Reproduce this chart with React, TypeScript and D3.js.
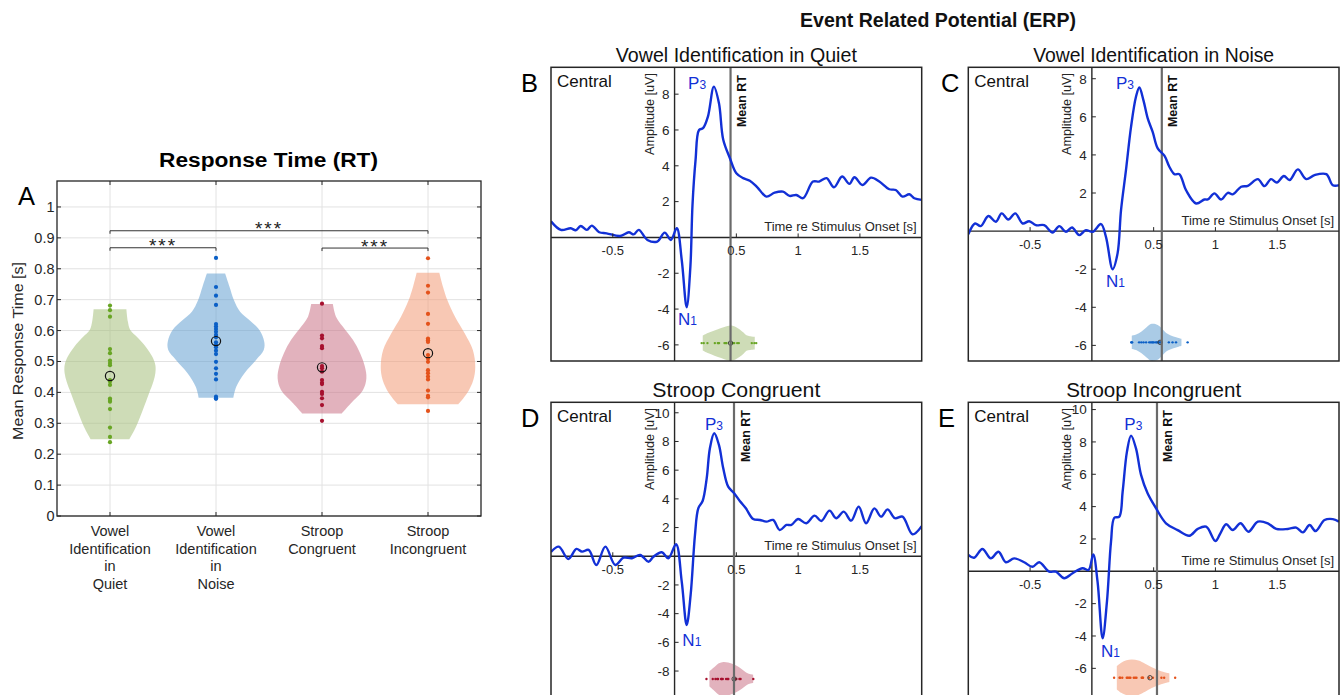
import React from "react";
import * as d3 from "d3";

const FONT = "'Liberation Sans', Arial, Helvetica, sans-serif";

// ---------------- Panel A data ----------------
const rtCategoryLines = [
  ["Vowel", "Identification", "in", "Quiet"],
  ["Vowel", "Identification", "in", "Noise"],
  ["Stroop", "Congruent"],
  ["Stroop", "Incongruent"],
];
const rtQuiet = [0.681, 0.666, 0.645, 0.54, 0.527, 0.503, 0.495, 0.488, 0.44, 0.435, 0.424, 0.38, 0.375, 0.37, 0.346, 0.286, 0.256, 0.239];
const rtNoise = [0.835, 0.741, 0.713, 0.683, 0.621, 0.613, 0.605, 0.596, 0.586, 0.578, 0.562, 0.553, 0.546, 0.535, 0.524, 0.499, 0.478, 0.46, 0.442, 0.386, 0.381, 0.379];
const rtCongruent = [0.687, 0.584, 0.575, 0.55, 0.543, 0.485, 0.478, 0.467, 0.44, 0.431, 0.427, 0.402, 0.395, 0.381, 0.359, 0.308];
const rtIncongruent = [0.834, 0.745, 0.723, 0.654, 0.622, 0.574, 0.569, 0.563, 0.521, 0.51, 0.499, 0.472, 0.462, 0.451, 0.442, 0.406, 0.389, 0.384, 0.34];
const rtMeans = [0.453, 0.566, 0.481, 0.527];

// violin density profiles: [response time, relative density]
const densQuiet = [[0.248, 0.4], [0.289, 0.54], [0.343, 0.68], [0.397, 0.81], [0.435, 0.9], [0.462, 0.94], [0.489, 0.94], [0.516, 0.875], [0.548, 0.74], [0.58, 0.556], [0.602, 0.42], [0.629, 0.37], [0.669, 0.34]];
const densNoise = [[0.383, 0.36], [0.418, 0.42], [0.462, 0.59], [0.505, 0.83], [0.537, 0.99], [0.564, 1.0], [0.602, 0.9], [0.634, 0.69], [0.661, 0.5], [0.699, 0.37], [0.742, 0.28], [0.785, 0.19]];
const densCongruent = [[0.332, 0.41], [0.365, 0.6], [0.408, 0.85], [0.446, 0.92], [0.483, 0.89], [0.527, 0.79], [0.57, 0.64], [0.613, 0.43], [0.645, 0.29], [0.686, 0.225]];
const densIncongruent = [[0.362, 0.63], [0.397, 0.81], [0.44, 0.94], [0.483, 0.98], [0.537, 0.93], [0.591, 0.76], [0.645, 0.56], [0.699, 0.4], [0.742, 0.31], [0.787, 0.235]];

const rtYTicks = [0, 0.1, 0.2, 0.3, 0.4, 0.5, 0.6, 0.7, 0.8, 0.9, 1];
const rtYTickLabels = ["0", "0.1", "0.2", "0.3", "0.4", "0.5", "0.6", "0.7", "0.8", "0.9", "1"];
const sigPairs = [[1, 2], [1, 4], [3, 4]];
const sigLevels = [0.868, 0.923, 0.867];
const sigLabels = ["***", "***", "***"];

const pointColors = ["#68a524", "#0a5fc6", "#a6102e", "#e4521b"];
const violinColors = ["#a6bf7c", "#64a0d1", "#ca7387", "#f29b77"];

// ---------------- ERP data ----------------
const erpTitles = ["Vowel Identification in Quiet", "Vowel Identification in Noise", "Stroop Congruent", "Stroop Incongruent"];
const erpLetters = ["B", "C", "D", "E"];
const erpQuiet = [[-1.0, 0.9], [-0.92, 0.42], [-0.84, 0.51], [-0.8, 0.4], [-0.76, 0.64], [-0.71, 0.42], [-0.67, 0.66], [-0.61, 0.29], [-0.55, 0.23], [-0.44, 0.08], [-0.37, 0.29], [-0.33, 0.17], [-0.29, 0.42], [-0.22, -0.14], [-0.14, -0.23], [-0.08, 0.27], [-0.03, -0.14], [0.018, 0.51], [0.058, -1.26], [0.098, -3.9], [0.128, -1.63], [0.145, 1.8], [0.17, 4.33], [0.198, 6.0], [0.23, 6.1], [0.27, 6.75], [0.318, 8.42], [0.359, 7.5], [0.394, 5.45], [0.448, 4.42], [0.5, 3.58], [0.555, 3.31], [0.609, 3.17], [0.67, 2.8], [0.743, 2.28], [0.81, 2.5], [0.877, 2.56], [0.931, 2.32], [0.985, 2.37], [1.04, 2.19], [1.12, 3.12], [1.17, 3.12], [1.23, 3.31], [1.29, 2.8], [1.356, 3.4], [1.415, 2.99], [1.456, 3.36], [1.52, 2.93], [1.59, 3.34], [1.657, 3.12], [1.738, 2.69], [1.79, 2.65], [1.845, 2.28], [1.9, 2.41], [1.94, 2.19], [2.0, 2.1]];
const erpNoise = [[-1.0, -0.17], [-0.945, 0.4], [-0.9, 0.26], [-0.837, 0.79], [-0.777, 0.49], [-0.73, 0.93], [-0.677, 0.61], [-0.62, 0.93], [-0.56, 0.4], [-0.507, 0.52], [-0.453, 0.31], [-0.386, 0.31], [-0.318, -0.07], [-0.264, 0.26], [-0.21, -0.04], [-0.161, 0.19], [-0.102, -0.21], [-0.048, 0.05], [0.006, -0.04], [0.074, 0.37], [0.114, -0.3], [0.168, -2.0], [0.208, -1.17], [0.236, 1.1], [0.276, 3.2], [0.317, 5.47], [0.357, 7.05], [0.384, 7.54], [0.417, 6.88], [0.452, 5.92], [0.492, 5.21], [0.533, 4.34], [0.587, 3.96], [0.627, 3.38], [0.668, 2.99], [0.708, 2.99], [0.762, 2.15], [0.844, 1.45], [0.911, 1.66], [0.938, 1.66], [0.992, 1.98], [1.046, 1.66], [1.1, 2.01], [1.14, 1.93], [1.208, 2.33], [1.262, 2.38], [1.343, 2.73], [1.397, 2.36], [1.45, 2.73], [1.497, 2.55], [1.554, 2.89], [1.6, 2.68], [1.667, 3.24], [1.735, 2.73], [1.802, 2.94], [1.897, 2.99], [1.95, 2.41], [2.0, 2.41]];
const erpCongruent = [[-1.0, 0.3], [-0.937, 0.67], [-0.86, -0.19], [-0.794, 0.51], [-0.749, 0.32], [-0.695, 0.44], [-0.633, -0.61], [-0.56, 0.67], [-0.48, -0.61], [-0.413, -0.1], [-0.345, -0.14], [-0.278, 0.09], [-0.211, -0.38], [-0.171, -0.03], [-0.103, 0.28], [-0.05, -0.14], [0.012, 0.84], [0.058, -1.77], [0.098, -4.79], [0.13, -2.7], [0.165, 1.48], [0.192, 3.34], [0.227, 3.85], [0.26, 5.43], [0.286, 7.53], [0.321, 8.57], [0.359, 7.76], [0.394, 6.13], [0.434, 4.85], [0.482, 4.39], [0.528, 3.85], [0.577, 3.34], [0.636, 2.6], [0.69, 2.53], [0.743, 2.41], [0.797, 2.53], [0.851, 1.83], [0.905, 2.18], [0.945, 2.18], [0.999, 2.6], [1.066, 2.3], [1.133, 2.83], [1.187, 2.46], [1.254, 3.18], [1.308, 2.65], [1.369, 3.11], [1.429, 2.48], [1.49, 3.46], [1.55, 2.3], [1.617, 3.34], [1.671, 2.76], [1.724, 3.27], [1.784, 2.65], [1.845, 2.76], [1.926, 1.53], [2.0, 2.1]];
const erpIncongruent = [[-1.0, 1.01], [-0.953, 0.84], [-0.886, 1.38], [-0.818, 0.8], [-0.756, 1.21], [-0.696, 0.56], [-0.629, 0.8], [-0.548, 0.56], [-0.481, 0.28], [-0.426, 0.56], [-0.345, -0.02], [-0.291, -0.02], [-0.224, -0.43], [-0.156, -0.12], [-0.075, 0.19], [-0.027, 0.08], [0.011, 1.05], [0.046, -0.64], [0.087, -4.14], [0.122, -1.88], [0.155, 1.83], [0.182, 3.31], [0.222, 3.38], [0.249, 4.92], [0.284, 7.4], [0.317, 8.39], [0.357, 7.6], [0.398, 5.96], [0.451, 4.82], [0.519, 3.9], [0.6, 2.97], [0.694, 2.55], [0.789, 2.2], [0.857, 2.62], [0.925, 2.76], [1.0, 1.87], [1.04, 2.35], [1.087, 2.91], [1.14, 2.55], [1.203, 2.97], [1.267, 2.45], [1.343, 3.07], [1.424, 2.97], [1.492, 2.62], [1.586, 2.62], [1.654, 2.7], [1.708, 2.41], [1.762, 2.86], [1.81, 2.49], [1.883, 3.17], [1.95, 3.23], [2.0, 3.07]];

const erpXDomain = [-1, 2];
const erpXTicks = [-0.5, 0.5, 1, 1.5];
const erpXTickLabels = ["-0.5", "0.5", "1", "1.5"];
const erpYDomains = [[-6.9, 9.5], [-6.82, 8.6], [-9.74, 10.73], [-7.71, 10.45]];
const erpYTicks = [[-6, -4, -2, 2, 4, 6, 8], [-6, -4, -2, 2, 4, 6, 8], [-8, -6, -4, -2, 2, 4, 6, 8, 10], [-6, -4, -2, 2, 4, 6, 8, 10]];
const erpP3Label = [[0.109, 8.3], [0.195, 7.44], [0.246, 8.8], [0.263, 8.74]];
const erpN1Label = [[0.028, -4.89], [0.114, -2.96], [0.063, -6.23], [0.074, -5.28]];
const erpViolinLevel = [-5.9, -5.84, -8.55, -6.58];
const erpRtShift = [-0.02, -0.06, -0.05, -0.16];
const erpMarker = [0.453, 0.552, 0.482, 0.47];

const rtSets = [rtQuiet, rtNoise, rtCongruent, rtIncongruent];
const densSets = [densQuiet, densNoise, densCongruent, densIncongruent];
const erpCurves = [erpQuiet, erpNoise, erpCongruent, erpIncongruent];

// layout
const erpBoxes = [
  { x0: 551, x1: 921.7, y0: 67.3, y1: 361 },
  { x0: 968.3, x1: 1339, y0: 67.3, y1: 361 },
  { x0: 551, x1: 921.7, y0: 402.3, y1: 696 },
  { x0: 968.3, x1: 1339, y0: 402.3, y1: 696 },
];
const erpLetterX = [521, 941, 521, 938];

function PanelA() {
  const L = 57, R = 481, T = 181, B = 516;
  const x = d3.scaleLinear().domain([0.5, 4.5]).range([L, R]);
  const y = d3.scaleLinear().domain([0, 1.084]).range([B, T]);
  const wUnit = x(1.455) - x(1);
  const ink = "#262626";
  return (
    <g>
      <text x={268.5} y={166.7} textAnchor="middle" fontWeight="bold" fontSize={20} textLength={219} lengthAdjust="spacingAndGlyphs" fill="#000">Response Time (RT)</text>
      <text x={18} y={205} fontSize={25.5} fill="#000">A</text>
      {rtYTicks.map((t, i) => (
        <line key={"gy" + i} x1={L} x2={R} y1={y(t)} y2={y(t)} stroke="#e2e2e2" strokeWidth={1} />
      ))}
      {[1, 2, 3, 4].map((c) => (
        <line key={"gx" + c} x1={x(c)} x2={x(c)} y1={T} y2={B} stroke="#e2e2e2" strokeWidth={1} />
      ))}
      {densSets.map((dens, i) => {
        const cx = x(i + 1);
        const area = d3
          .area<number[]>()
          .y((d) => y(d[0]))
          .x0((d) => cx - d[1] * wUnit)
          .x1((d) => cx + d[1] * wUnit)
          .curve(d3.curveCatmullRom.alpha(0.5));
        return <path key={"v" + i} d={area(dens) || ""} fill={violinColors[i]} fillOpacity={0.55} stroke="none" />;
      })}
      {rtSets.map((set, i) =>
        set.map((v, j) => <circle key={"p" + i + "_" + j} cx={x(i + 1)} cy={y(v)} r={2.1} fill={pointColors[i]} />)
      )}
      {rtMeans.map((m, i) => (
        <circle key={"m" + i} cx={x(i + 1)} cy={y(m)} r={4.6} fill="none" stroke="#111" strokeWidth={1.2} />
      ))}
      {sigPairs.map((p, i) => {
        const yy = y(sigLevels[i]);
        const xa = x(p[0]), xb = x(p[1]);
        return (
          <g key={"s" + i}>
            <path d={`M${xa},${yy + 3}V${yy}H${xb}V${yy + 3}`} fill="none" stroke="#333" strokeWidth={1} />
            <text x={(xa + xb) / 2} y={yy + 4.5} textAnchor="middle" fontSize={19} letterSpacing={2} fill="#222">{sigLabels[i]}</text>
          </g>
        );
      })}
      {rtYTicks.map((t, i) => (
        <g key={"t" + i}>
          <line x1={L} x2={L + 4} y1={y(t)} y2={y(t)} stroke={ink} />
          <line x1={R} x2={R - 4} y1={y(t)} y2={y(t)} stroke={ink} />
          <text x={54.5} y={y(t) + 5} textAnchor="end" fontSize={14.5} fill={ink}>{rtYTickLabels[i]}</text>
        </g>
      ))}
      {[1, 2, 3, 4].map((c) => (
        <g key={"xt" + c}>
          <line x1={x(c)} x2={x(c)} y1={T} y2={T + 4} stroke={ink} />
          <line x1={x(c)} x2={x(c)} y1={B} y2={B - 4} stroke={ink} />
        </g>
      ))}
      {rtCategoryLines.map((lines, i) => (
        <text key={"c" + i} textAnchor="middle" fontSize={14.5} fill={ink}>
          {lines.map((s, k) => (
            <tspan key={k} x={x(i + 1)} y={535.7 + k * 17.8}>{s}</tspan>
          ))}
        </text>
      ))}
      <text transform="translate(23.3,350.9) rotate(-90)" textAnchor="middle" fontSize={15} textLength={178} lengthAdjust="spacingAndGlyphs" fill={ink}>Mean Response Time [s]</text>
      <rect x={L} y={T} width={R - L} height={B - T} fill="none" stroke={ink} strokeWidth={1.3} />
    </g>
  );
}

function ErpPanel({ i }: { i: number }) {
  const b = erpBoxes[i];
  const x = d3.scaleLinear().domain(erpXDomain).range([b.x0, b.x1]);
  const y = d3.scaleLinear().domain(erpYDomains[i]).range([b.y1, b.y0]);
  const x0 = x(0), y0 = y(0);
  const ink = "#262626";
  const blue = "#1230d6";
  const line = d3
    .line<number[]>()
    .x((d) => x(d[0]))
    .y((d) => y(d[1]))
    .curve(d3.curveCatmullRom.alpha(0.5));
  const tv = d3.scaleLinear().domain([0, 1]).range([erpRtShift[i], 1 + erpRtShift[i]]);
  const hUnit = 18.5;
  const vy = y(erpViolinLevel[i]);
  const area = d3
    .area<number[]>()
    .x((d) => x(tv(d[0])))
    .y0((d) => vy + d[1] * hUnit)
    .y1((d) => vy - d[1] * hUnit)
    .curve(d3.curveCatmullRom.alpha(0.5));
  const meanX = x(rtMeans[i]);
  const clipId = "erpclip" + i;
  const cx = (b.x0 + b.x1) / 2;
  const titleLen = [241, 241, 168, 175][i];
  return (
    <g>
      <defs>
        <clipPath id={clipId}>
          <rect x={b.x0} y={b.y0} width={b.x1 - b.x0} height={b.y1 - b.y0} />
        </clipPath>
      </defs>
      <text x={cx} y={b.y0 - 5.3} textAnchor="middle" fontSize={19.5} textLength={titleLen} lengthAdjust="spacingAndGlyphs" fill="#111">{erpTitles[i]}</text>
      <text x={erpLetterX[i]} y={b.y0 + 24.4} fontSize={25.5} fill="#000">{erpLetters[i]}</text>
      <g clipPath={`url(#${clipId})`}>
        <path d={area(densSets[i]) || ""} fill={violinColors[i]} fillOpacity={0.55} />
        {rtSets[i].map((v, j) => (
          <circle key={j} cx={x(tv(v))} cy={vy} r={1.2} fill={pointColors[i]} />
        ))}
        <circle cx={x(erpMarker[i])} cy={vy} r={2.2} fill="none" stroke="#333" strokeWidth={0.9} />
        <line x1={b.x0} x2={b.x1} y1={y0} y2={y0} stroke={ink} strokeWidth={1.4} />
        <line x1={x0} x2={x0} y1={b.y0} y2={b.y1} stroke={ink} strokeWidth={1.4} />
        <line x1={meanX} x2={meanX} y1={b.y0} y2={b.y1} stroke="#6a6a6a" strokeWidth={2.2} />
        <path d={line(erpCurves[i]) || ""} fill="none" stroke={blue} strokeWidth={2.4} strokeLinejoin="round" />
      </g>
      {erpYTicks[i].map((t, k) => (
        <g key={"y" + k}>
          <line x1={x0} x2={x0 + 4} y1={y(t)} y2={y(t)} stroke={ink} />
          <text x={x0 - 5} y={y(t) + 4.8} textAnchor="end" fontSize={13.5} fill={ink}>{String(t)}</text>
        </g>
      ))}
      {erpXTicks.map((t, k) => (
        <g key={"x" + k}>
          <line x1={x(t)} x2={x(t)} y1={y0} y2={y0 - 4} stroke={ink} />
          <text x={x(t)} y={y0 + 17.5} textAnchor="middle" fontSize={13} fill={ink}>{erpXTickLabels[k]}</text>
        </g>
      ))}
      <text x={b.x1 - 5} y={y0 - 6} textAnchor="end" fontSize={13} textLength={152.5} lengthAdjust="spacingAndGlyphs" fill={ink}>Time re Stimulus Onset [s]</text>
      <text transform={`translate(${x0 - 21},${b.y0 + 5.7}) rotate(-90)`} textAnchor="end" fontSize={13} textLength={82} lengthAdjust="spacingAndGlyphs" fill={ink}>Amplitude [uV]</text>
      <text transform={`translate(${meanX + 15.5},${b.y0 + 7.7}) rotate(-90)`} textAnchor="end" fontSize={12.5} fontWeight="bold" fill="#111">Mean RT</text>
      <text x={b.x0 + 6} y={b.y0 + 19.4} fontSize={17} fill="#111">Central</text>
      <text x={x(erpP3Label[i][0])} y={y(erpP3Label[i][1])} fontSize={17} fill={blue}>
        P<tspan fontSize={12}>3</tspan>
      </text>
      <text x={x(erpN1Label[i][0])} y={y(erpN1Label[i][1])} fontSize={17} fill={blue}>
        N<tspan fontSize={12}>1</tspan>
      </text>
      <rect x={b.x0} y={b.y0} width={b.x1 - b.x0} height={b.y1 - b.y0} fill="none" stroke={ink} strokeWidth={1.5} />
    </g>
  );
}

export default function App() {
  return (
    <svg width={1343} height={695} style={{ position: "absolute", left: 0, top: 0, background: "#fff" }} fontFamily={FONT}>
      <rect width={1343} height={695} fill="#fff" />
      <PanelA />
      <text x={938} y={27} textAnchor="middle" fontWeight="bold" fontSize={19.5} textLength={276} lengthAdjust="spacingAndGlyphs" fill="#111">Event Related Potential (ERP)</text>
      {erpCurves.map((_, i) => (
        <ErpPanel key={i} i={i} />
      ))}
    </svg>
  );
}
